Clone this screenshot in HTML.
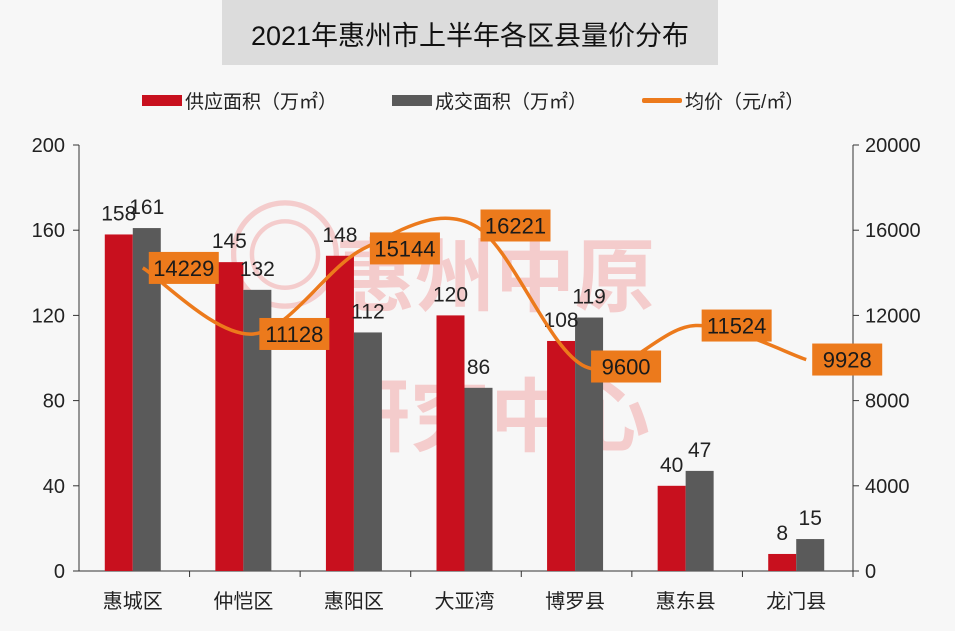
<!DOCTYPE html>
<html><head><meta charset="utf-8"><style>
body{margin:0;background:#f7f7f7;}
svg{display:block;font-family:"Liberation Sans","Noto Sans CJK SC",sans-serif;}
</style></head><body>
<svg id="c" width="955" height="631">
<rect x="0" y="0" width="955" height="631" fill="#f7f7f7"/>
<g fill="#f4cccc" font-size="80" font-weight="bold">
<text x="225" y="300" font-size="120">◎</text>
<text x="335" y="305">惠州中原</text>
<text x="330" y="445">研究中心</text>
</g>
<rect x="222" y="0" width="496" height="65" fill="#dcdcdc"/>
<text x="470" y="45" text-anchor="middle" font-size="27" fill="#111">2021年惠州市上半年各区县量价分布</text>
<g font-size="19" fill="#222">
<rect x="142" y="95" width="40" height="11" fill="#c8101e"/>
<text x="185" y="108">供应面积（万㎡）</text>
<rect x="392" y="95" width="40" height="11" fill="#5a5a5a"/>
<text x="435" y="108">成交面积（万㎡）</text>
<rect x="642" y="98" width="40" height="5" rx="2" fill="#ec7a1c"/>
<text x="685" y="108">均价（元/㎡）</text>
</g>
<g id="axes"></g><g id="bars"></g><g id="line"></g>
</svg>
<script>
const categories=["惠城区","仲恺区","惠阳区","大亚湾","博罗县","惠东县","龙门县"];
const supply=[158,145,148,120,108,40,8];
const deal=[161,132,112,86,119,47,15];
const price=[14229,11128,15144,16221,9600,11524,9928];
const leftTicks=[0,40,80,120,160,200];
const rightTicks=[0,4000,8000,12000,16000,20000];
const NS="http://www.w3.org/2000/svg";
const X0=79,X1=853,Y0=571,Y1=145,band=(X1-X0)/categories.length;
const yL=v=>Y0-(v/200)*(Y0-Y1), yR=v=>Y0-(v/20000)*(Y0-Y1), xc=i=>X0+band*(i+0.5)-1.5;
function mk(tag,attrs,parent,txt){const e=document.createElementNS(NS,tag);for(const k in attrs)e.setAttribute(k,attrs[k]);if(txt!==undefined)e.textContent=txt;parent.appendChild(e);return e;}
const ax=document.getElementById('axes'),bars=document.getElementById('bars'),ln=document.getElementById('line');
let e;
e=mk('line',{x1:X0,y1:Y1,x2:X0,y2:Y0,stroke:'#333','stroke-width':1},ax);


e=mk('line',{x1:X1,y1:Y1,x2:X1,y2:Y0,stroke:'#333','stroke-width':1},ax);


e=mk('line',{x1:X0,y1:Y0,x2:X1,y2:Y0,stroke:'#333','stroke-width':1},ax);


leftTicks.forEach(v=>{
 mk('line',{x1:X0-6,x2:X0,y1:yL(v),y2:yL(v),stroke:'#333'},ax);
 e=mk('text',{x:X0-14,y:yL(v)+7,'text-anchor':'end','font-size':20,fill:'#222'},ax,v);
 
 
});
rightTicks.forEach(v=>{
 mk('line',{x1:X1,x2:X1+6,y1:yR(v),y2:yR(v),stroke:'#333'},ax);
 e=mk('text',{x:X1+12,y:yR(v)+7,'font-size':20,fill:'#222'},ax,v);
 
 
});
categories.forEach((c,i)=>{
 mk('line',{x1:X0+band*(i+1),x2:X0+band*(i+1),y1:Y0,y2:Y0+6,stroke:'#333'},ax);
 e=mk('text',{x:xc(i),y:Y0+37,'text-anchor':'middle','font-size':20,fill:'#222'},ax,c);
 
 
 const w=28;
 e=mk('rect',{x:xc(i)-w,y:yL(supply[i]),width:w,height:Y0-yL(supply[i]),fill:'#c8101e'},bars);
 
 
 e=mk('rect',{x:xc(i),y:yL(deal[i]),width:w,height:Y0-yL(deal[i]),fill:'#5a5a5a'},bars);
 
 
 e=mk('text',{x:xc(i)-w/2,y:yL(supply[i])-14,'text-anchor':'middle','font-size':21,fill:'#222'},bars,supply[i]);
 
 
 e=mk('text',{x:xc(i)+w/2,y:yL(deal[i])-14,'text-anchor':'middle','font-size':21,fill:'#222'},bars,deal[i]);
 
 
});
const pts=price.map((v,i)=>[xc(i)+10,yR(v)]);
let d=`M${pts[0][0]},${pts[0][1]}`;
for(let i=0;i<pts.length-1;i++){
 const p0=pts[Math.max(0,i-1)],p1=pts[i],p2=pts[i+1],p3=pts[Math.min(pts.length-1,i+2)];
 const t=1/6;
 d+=` C${p1[0]+(p2[0]-p0[0])*t},${p1[1]+(p2[1]-p0[1])*t} ${p2[0]-(p3[0]-p1[0])*t},${p2[1]-(p3[1]-p1[1])*t} ${p2[0]},${p2[1]}`;
}
e=mk('path',{d:d,fill:'none',stroke:'#ec7a1c','stroke-width':3.5},ln);


pts.forEach((p,i)=>{
 const bx=p[0]+6,by=p[1]-16;
 e=mk('rect',{x:bx,y:by,width:70,height:32,fill:'#ec7a1c'},ln);
 
 
 e=mk('text',{x:bx+35,y:by+24,'text-anchor':'middle','font-size':22,fill:'#1a1a1a'},ln,price[i]);
 
 
});
</script>
</body></html>
